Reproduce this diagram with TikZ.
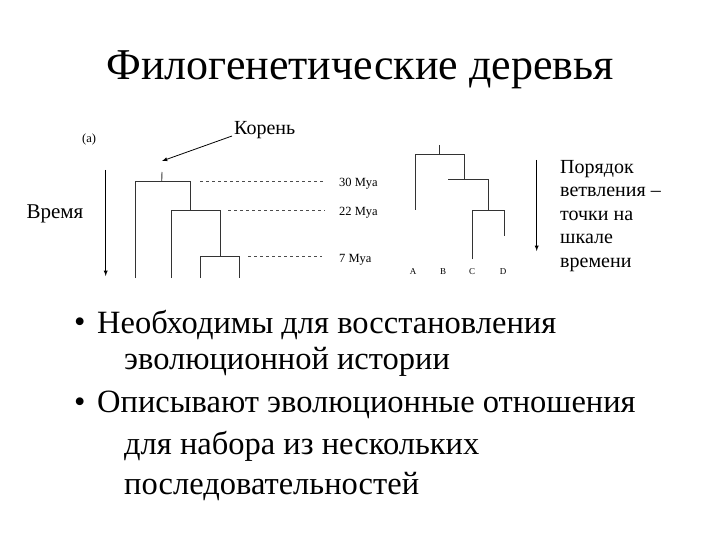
\documentclass[tikz,border=0pt]{standalone}
\usepackage{fontspec}
\setmainfont{Liberation Serif}
\begin{document}
\begin{tikzpicture}[x=1pt,y=-1pt,
  br/.style={line width=0.9pt,black!80},
  dl/.style={dashed,line width=0.8pt,black!70},
  sm/.style={font=\fontsize{12.5}{14}\selectfont,anchor=west,inner sep=0},
  bt/.style={font=\fontsize{32.5}{36}\selectfont,anchor=west,inner sep=0}]
\useasboundingbox (0,0) rectangle (720,540);
\node[font=\fontsize{44}{46}\selectfont] (title) at (360,70) {Филогенетические деревья};
% left tree
\node[sm] (a) at (82,139) {(a)};
\node[font=\fontsize{20}{22}\selectfont,anchor=west,inner sep=0] (kor) at (234,130) {Корень};
\coordinate (kt) at (232,136);
\coordinate (r0) at (162,172);
\draw[-latex,line width=0.8pt] (kt) -- (162,161);
\draw[br] (r0) -- (161.7,181.7);
\draw[br] (135,278) -- (135,181.7) -- (190.7,181.7) -- (190.7,210);
\draw[br] (171.7,278) -- (171.7,210) -- (220.7,210) -- (220.7,256.7);
\draw[br] (200,278) -- (200,256.7) -- (239,256.7) -- (239,278);
\draw[dl] (200,181.7) -- (325,181.7);
\draw[dl] (228,210) -- (325,210);
\draw[dl] (248,256.7) -- (322,256.7);
\node[sm] (m30) at (339,184) {30 Mya};
\node[sm] (m22) at (339,213) {22 Mya};
\node[sm] (m7) at (339,260) {7 Mya};
\draw[-latex,line width=0.9pt] (105.7,170) -- (105.7,276);
\node[font=\fontsize{21}{23}\selectfont,inner sep=0] (vr) at (55,214) {Время};
% right tree
\draw[br] (439.3,145) -- (439.3,154.7);
\draw[br] (415.7,210) -- (415.7,154.7) -- (464.3,154.7) -- (464.3,179);
\draw[br] (448.3,179) -- (488.3,179) -- (488.3,210.7);
\draw[br] (472.3,259.3) -- (472.3,210.7) -- (504.3,210.7) -- (504.3,236);
\foreach \l/\x in {A/413,B/443,C/472,D/503}
  \node[font=\fontsize{9}{10}\selectfont,inner sep=0] (L\l) at (\x,272) {\l};
\draw[-latex,line width=0.9pt] (536.7,160) -- (536.7,251);
\node[font=\fontsize{20}{23.5}\selectfont,align=left,anchor=north west,inner sep=0] (por) at (560,160)
  {Порядок\\ветвления –\\точки на\\шкале\\времени};
% bullets
\node[bt] (b1) at (74,325) {•};
\node[bt] (t1) at (97,325) {Необходимы для восстановления};
\node[bt] (t2) at (124,362) {эволюционной истории};
\node[bt] (b2) at (74,405) {•};
\node[bt] (t3) at (97,405) {Описывают эволюционные отношения};
\node[bt] (t4) at (124,446) {для набора из нескольких};
\node[bt] (t5) at (124,487) {последовательностей};
\end{tikzpicture}
\end{document}
